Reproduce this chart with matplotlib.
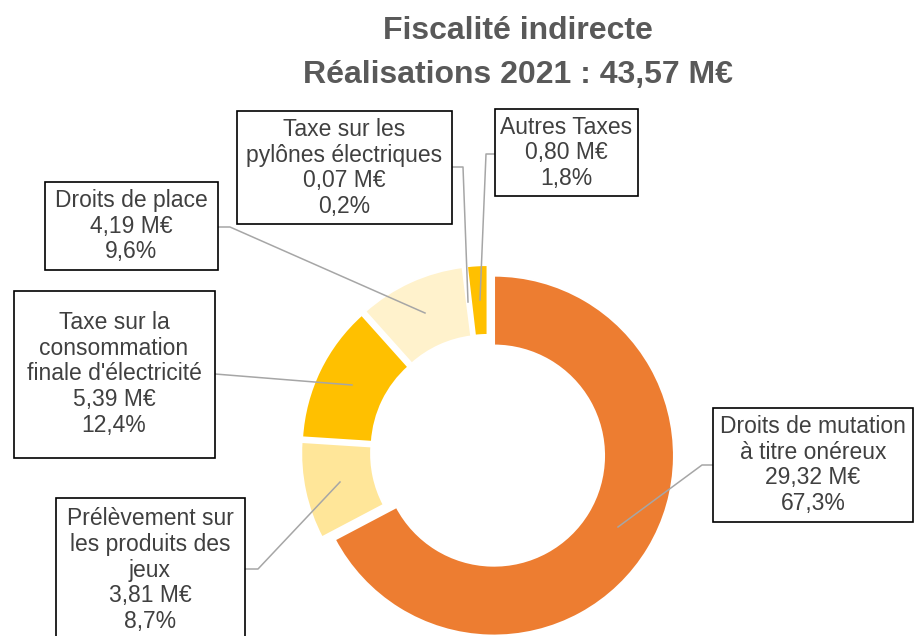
import matplotlib.pyplot as plt
from matplotlib.patches import Rectangle

W, H = 918, 636

# data
names = [
    "Droits de mutation\nà titre onéreux",
    "Prélèvement sur\nles produits des\njeux",
    "Taxe sur la\nconsommation\nfinale d'électricité",
    "Droits de place",
    "Taxe sur les\npylônes électriques",
    "Autres Taxes",
]
values = [29.32, 3.81, 5.39, 4.19, 0.07, 0.80]
colors = ["#ED7D31", "#FFE699", "#FFC000", "#FFF2CC", "#9DC3E6", "#FFC000"]
title_lines = ["Fiscalité indirecte", "Réalisations 2021 : 43,57 M€"]

# layout in image pixels (x, y from top-left)
boxes = [
    (713, 408, 200, 114),
    (56, 498, 189, 150),
    (14, 291, 201, 167),
    (45, 182, 173, 88),
    (237, 111, 215, 113),
    (495, 109, 143, 87),
]
text_pos = [(813, 465), (150, 570), (114, 374), (131, 226), (344, 168), (566, 153)]
leaders = [
    [(713, 465), (702, 465), (618, 527)],
    [(245, 569), (258, 569), (340, 482)],
    [(215, 374), (352, 385)],
    [(218, 227), (230, 227), (425, 313)],
    [(452, 167), (463, 167), (468, 302)],
    [(495, 154), (486, 154), (480, 300)],
]

fig = plt.figure(figsize=(W / 100, H / 100), dpi=100)
ax = fig.add_axes([0, 0, 1, 1])

ax.pie(
    values,
    colors=colors,
    startangle=90,
    counterclock=False,
    radius=180,
    center=(488, H - 452),
    explode=[7] * len(values),
    wedgeprops=dict(width=70, edgecolor="white", linewidth=1.5),
)
ax.set_xlim(0, W)
ax.set_ylim(0, H)
ax.set_aspect("equal")
ax.axis("off")

total = sum(values)
for name, v, (bx, by, bw, bh), (tx, ty), pts in zip(names, values, boxes, text_pos, leaders):
    xs = [p[0] for p in pts]
    ys = [H - p[1] for p in pts]
    ax.plot(xs, ys, color="#A6A6A6", lw=1.1, zorder=3)
    ax.add_patch(Rectangle((bx, H - by - bh), bw, bh, facecolor="white",
                           edgecolor="black", lw=1.2, zorder=4, clip_on=False))
    pct = f"{100 * v / total:.1f}".replace(".", ",")
    label = f"{name}\n{v:.2f}".replace(".", ",") + f" M€\n{pct}%"
    ax.text(tx, H - ty, label, ha="center", va="center", fontsize=16.5,
            color="#404040", family=["Liberation Sans", "DejaVu Sans"],
            linespacing=1.15, zorder=5)

for line, ty in zip(title_lines, [31, 75]):
    ax.text(518, H - ty, line, ha="center", va="center", fontsize=23,
            fontweight="bold", color="#595959",
            family=["Liberation Sans", "DejaVu Sans"])

fig.savefig("out.png", dpi=100)
